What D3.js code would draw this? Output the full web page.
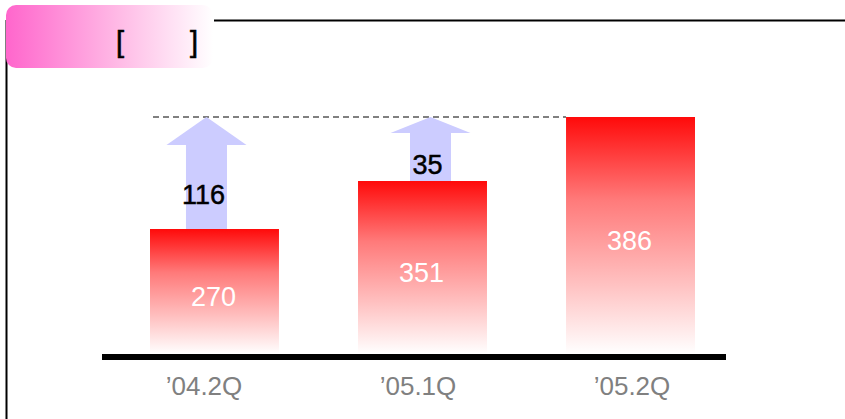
<!DOCTYPE html>
<html><head><meta charset="utf-8">
<script src="https://cdn.jsdelivr.net/npm/d3@7"></script>
<style>
html,body{margin:0;padding:0;background:#fff;}
svg{display:block;font-family:"Liberation Sans",Arial,sans-serif;}
</style></head>
<body>
<svg id="chart" width="845" height="419"></svg>
<script>
const categories = ["’04.2Q", "’05.1Q", "’05.2Q"];
const values = [270, 351, 386];
const increases = [116, 35];
const headerText = ["[", "]"];

const svg = d3.select("#chart");
const defs = svg.append("defs");

// gradients
const hg = defs.append("linearGradient").attr("id","hdr").attr("x1","0").attr("x2","1").attr("y1","0").attr("y2","0");
hg.append("stop").attr("offset","0%").attr("stop-color","#ff66cc");
hg.append("stop").attr("offset","55%").attr("stop-color","#ffbbe6");
hg.append("stop").attr("offset","100%").attr("stop-color","#ffffff");

const bg = defs.append("linearGradient").attr("id","bar").attr("x1","0").attr("x2","0").attr("y1","0").attr("y2","1");
bg.append("stop").attr("offset","0%").attr("stop-color","#ff0a0a");
bg.append("stop").attr("offset","35%").attr("stop-color","#ff7a7a");
bg.append("stop").attr("offset","70%").attr("stop-color","#ffc0c0");
bg.append("stop").attr("offset","100%").attr("stop-color","#ffffff");

// frame
svg.append("line").attr("x1",214).attr("x2",845).attr("y1",20.5).attr("y2",20.5).attr("stroke","#000").attr("stroke-width",2);
svg.append("line").attr("x1",6.5).attr("x2",6.5).attr("y1",20).attr("y2",419).attr("stroke","#000").attr("stroke-width",2);
svg.append("rect").attr("x",6).attr("y",5).attr("width",207).attr("height",63).attr("rx",10).attr("fill","url(#hdr)");
svg.append("text").attr("x",116).attr("y",52).attr("font-size",29).attr("fill","#000").attr("stroke","#000").attr("stroke-width",0.6).text(headerText[0]);
svg.append("text").attr("x",190).attr("y",52).attr("font-size",29).attr("fill","#000").attr("stroke","#000").attr("stroke-width",0.6).text(headerText[1]);

// scales
const x = d3.scaleBand().domain(categories).range([150, 695]).paddingInner(0.38).paddingOuter(0);
const y = d3.scaleLinear().domain([0, values[0], values[1], values[2]]).range([354, 229, 181, 117]);
const xl = d3.scalePoint().domain(categories).range([204, 632]);

// dashed target line
const target = d3.max(values);
svg.append("line").attr("x1",153).attr("x2",x(categories[2])).attr("y1",y(target)).attr("y2",y(target))
  .attr("stroke","#808080").attr("stroke-width",2).attr("stroke-dasharray","6,4");

// arrows
const arrowOffsets = [-8, 8];
const shaftMid = [];
increases.forEach((d,i)=>{
  const cx = x(categories[i]) + x.bandwidth()/2 + arrowOffsets[i];
  const yb = y(values[i]);
  const yt = y(values[i] + d);
  const len = yb - yt;
  const hl = Math.round(len*0.25);
  shaftMid.push((yt + hl + yb)/2);
  const sw = 20.5, hw = 40;
  const path = d3.path();
  path.moveTo(cx, yt);
  path.lineTo(cx+hw, yt+hl);
  path.lineTo(cx+sw, yt+hl);
  path.lineTo(cx+sw, yb);
  path.lineTo(cx-sw, yb);
  path.lineTo(cx-sw, yt+hl);
  path.lineTo(cx-hw, yt+hl);
  path.closePath();
  svg.append("path").attr("d",path.toString()).attr("fill","#ccccff");
});

// bars
svg.selectAll("rect.bar").data(values).enter().append("rect").attr("class","bar")
  .attr("x",(d,i)=>x(categories[i])).attr("width",x.bandwidth())
  .attr("y",d=>y(d)).attr("height",d=>y(0)-y(d)).attr("fill","url(#bar)");

// increase labels
increases.forEach((d,i)=>{
  const cx = x(categories[i]) + x.bandwidth()/2 + arrowOffsets[i] - 3;
  svg.append("text").attr("x",cx).attr("y",shaftMid[i] + 17).attr("text-anchor","middle")
    .attr("font-size",27).attr("fill","#000").attr("stroke","#000").attr("stroke-width",0.5).text(d);
});

// value labels
svg.selectAll("text.val").data(values).enter().append("text").attr("class","val")
  .attr("x",(d,i)=>x(categories[i])+x.bandwidth()/2 - 1)
  .attr("y",d=>(y(d)+y(0))/2 + 14)
  .attr("text-anchor","middle").attr("font-size",27).attr("fill","#fff").text(d=>d);

// baseline
svg.append("line").attr("x1",102).attr("x2",726).attr("y1",357).attr("y2",357).attr("stroke","#000").attr("stroke-width",6);

// x labels
svg.selectAll("text.cat").data(categories).enter().append("text").attr("class","cat")
  .attr("x",d=>xl(d)).attr("y",395).attr("text-anchor","middle")
  .attr("font-size",26).attr("fill","#808080").text(d=>d);
</script>
</body></html>
